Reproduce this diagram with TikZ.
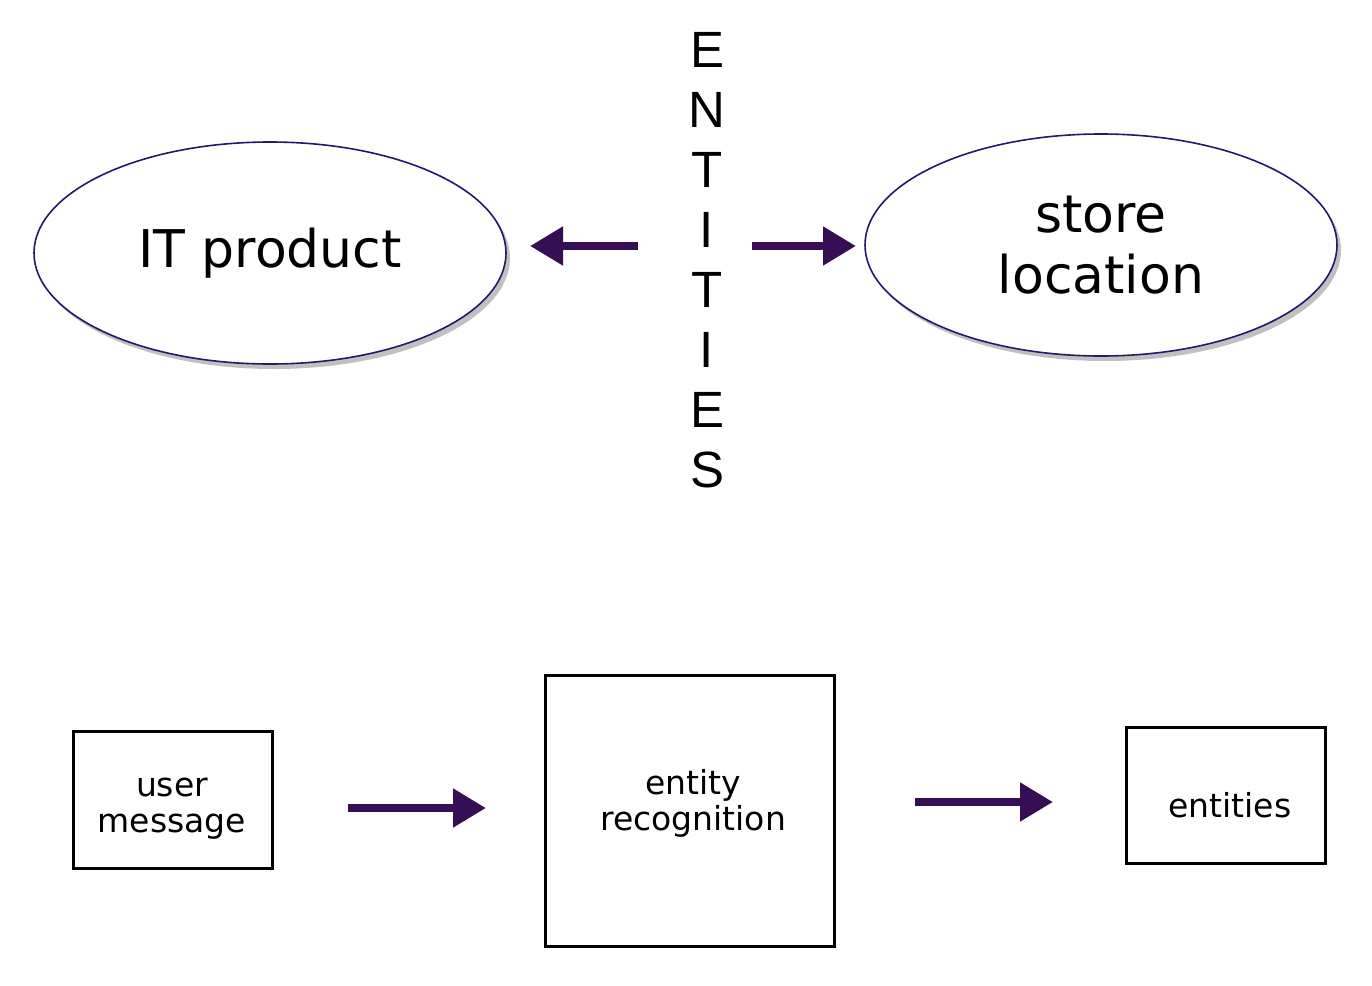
\documentclass[tikz,border=0pt]{standalone}
\usepackage{fontspec}
\setmainfont{DejaVu Sans}
\newfontfamily\lettersfont{Liberation Sans}
\usetikzlibrary{shapes.geometric,arrows.meta,shadows}
\definecolor{arrowpurple}{RGB}{54,14,86}
\definecolor{ellipseline}{RGB}{40,22,110}
\begin{document}
\begin{tikzpicture}[x=1pt,y=-1pt,
  ovalnode/.style={ellipse,draw=ellipseline,line width=1.6pt,fill=white,
    minimum width=472pt,minimum height=222pt,inner sep=0pt,align=center,
    font=\fontsize{52}{61}\selectfont,
    drop shadow={shadow xshift=4pt,shadow yshift=-5pt,fill=black!35,opacity=0.7}},
  boxnode/.style={draw=black,line width=3pt,inner sep=0pt},
  boxtext/.style={align=center,inner sep=0pt,font=\fontsize{33}{36}\selectfont},
  letter/.style={anchor=base,inner sep=0pt,font=\lettersfont\fontsize{51}{60}\selectfont},
  blockarrow/.style={draw=arrowpurple,line width=8pt,
    -{Triangle[length=33pt,width=37pt,fill=arrowpurple]}}]
\useasboundingbox (0,0) rectangle (1372,985);
\fill[white] (0,0) rectangle (1372,985);
% ellipses
\node[ovalnode] (it) at (270,253) {IT product};
\node[ovalnode] (store) at (1101,245) {store\\location};
% vertical text
\foreach \l [count=\i] in {E,N,T,I,T,I,E,S}
  \node[letter] (L\i) at (707,{67+60*(\i-1)}) {\l};
% top arrows
\coordinate (a1s) at (638,246);
\coordinate (a1e) at (530,246);
\coordinate (a2s) at (752,246);
\coordinate (a2e) at (856,246);
\draw[blockarrow] (a1s) -- (a1e);
\draw[blockarrow] (a2s) -- (a2e);
% boxes
\node[boxnode,minimum width=199pt,minimum height=137pt] (um) at (172.5,799.5) {};
\node[boxtext] (umt) at (172,809) {user\\message};
\node[boxnode,minimum width=289pt,minimum height=271pt] (er) at (689.5,810.5) {};
\node[boxtext] (ert) at (693,803) {entity\\recognition};
\node[boxnode,minimum width=199pt,minimum height=136pt] (en) at (1225.5,795.5) {};
\node[boxtext] (ent) at (1230,805) {entities};
% bottom arrows
\coordinate (b1s) at (348,808);
\coordinate (b1e) at (486,808);
\coordinate (b2s) at (915,802);
\coordinate (b2e) at (1053,802);
\draw[blockarrow] (b1s) -- (b1e);
\draw[blockarrow] (b2s) -- (b2e);
\end{tikzpicture}
\end{document}
